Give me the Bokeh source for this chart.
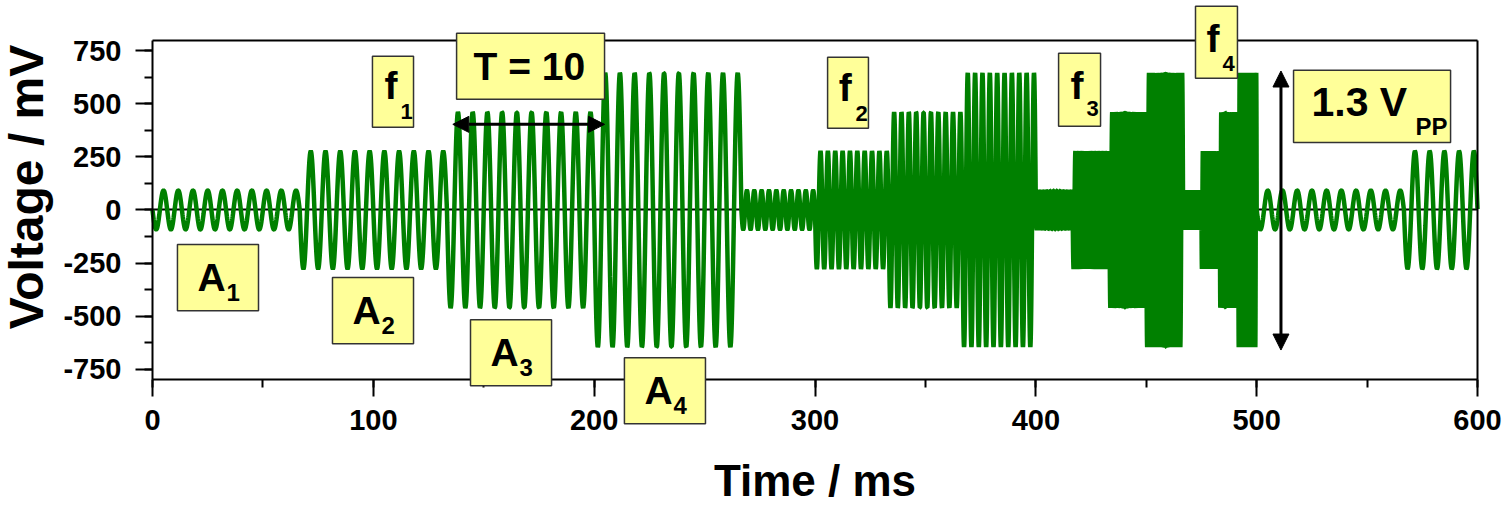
import math
import numpy as np
from bokeh.plotting import figure
from bokeh.models import (BoxAnnotation, Label, Arrow, NormalHead,
                          SingleIntervalTicker, FixedTicker, Range1d,
                          LinearAxis, PrintfTickFormatter)
from bokeh.embed import file_html
from bokeh.resources import INLINE

# ---------------- data: stepped sine bursts ----------------
seg_start_ms = [0.0, 66.67, 133.33, 200.0, 266.67, 300.0, 333.33, 366.67,
                400.0, 416.67, 433.33, 450.0, 466.67, 475.0, 483.33, 491.67,
                500.0, 566.67]
seg_end_ms = [66.67, 133.33, 200.0, 266.67, 300.0, 333.33, 366.67, 400.0,
              416.67, 433.33, 450.0, 466.67, 475.0, 483.33, 491.67, 500.0,
              566.67, 600.0]
seg_amp_mV = [92, 277, 461, 646, 92, 277, 461, 646,
              92, 277, 461, 646, 92, 277, 461, 646,
              92, 277]
seg_freq_Hz = [150, 150, 150, 150, 300, 300, 300, 300,
               600, 600, 600, 600, 1200, 1200, 1200, 1200,
               150, 150]

x_axis_bounds = (0, 600)
y_axis_bounds = (-800, 800)
x_ticks_interval = 100
y_ticks_interval = 250

# waveform sampled from the segment table
t_parts, v_parts = [], []
phase = 0.0
for s, e, a, f in zip(seg_start_ms, seg_end_ms, seg_amp_mV, seg_freq_Hz):
    cycles = (e - s) * f / 1000.0
    n = int(cycles * 48) + 2
    t = np.linspace(s, e, n)
    ph = phase + 2 * np.pi * f * (t - s) / 1000.0
    t_parts.append(t)
    v_parts.append(-a * np.sin(ph))
    phase = ph[-1]
t_all = np.concatenate(t_parts)
v_all = np.concatenate(v_parts)

FONT = "Liberation Sans"
PX_PER_MV = 339.5 / 1600.0
BASE_FIX = 0.38  # em shift so that the label y is the text baseline


def base_y(y, fs):
    return y + BASE_FIX * fs / PX_PER_MV


# the frame fills the canvas; axes sit at fixed locations so that the
# annotation boxes may overlap the axes like in the original figure
p = figure(width=1503, height=507, title=None,
           x_range=Range1d(-68.83, 611.77), y_range=Range1d(-1402.1, 987.3),
           output_backend="svg", toolbar_location=None,
           min_border=0, min_border_left=0, min_border_right=0,
           min_border_top=0, min_border_bottom=0)
p.background_fill_color = "white"
p.border_fill_color = "white"
p.outline_line_color = None
p.xgrid.visible = False
p.ygrid.visible = False

p.xaxis.fixed_location = y_axis_bounds[0]
p.xaxis.bounds = x_axis_bounds
p.yaxis.fixed_location = x_axis_bounds[0]
p.yaxis.bounds = y_axis_bounds
p.xaxis.ticker = SingleIntervalTicker(interval=x_ticks_interval, num_minor_ticks=2)
p.yaxis.ticker = SingleIntervalTicker(interval=y_ticks_interval, num_minor_ticks=2)
for ax in (p.xaxis[0], p.yaxis[0]):
    ax.formatter = PrintfTickFormatter(format="%d")
    ax.axis_line_width = 2
    ax.axis_line_color = "black"
    ax.major_tick_line_width = 2
    ax.minor_tick_line_width = 2
    ax.major_tick_line_color = "black"
    ax.minor_tick_line_color = "black"
    ax.major_tick_out = 17
    ax.major_tick_in = 0
    ax.minor_tick_out = 8
    ax.minor_tick_in = 0
    ax.major_label_text_font = FONT
    ax.major_label_text_font_style = "bold"
    ax.major_label_text_font_size = "29px"
    ax.major_label_text_color = "black"
p.xaxis.major_label_standoff = 13
p.yaxis.major_label_standoff = 14

# top and right frame lines (plain axes without ticks)
top_axis = LinearAxis(fixed_location=y_axis_bounds[1], bounds=x_axis_bounds,
                      ticker=FixedTicker(ticks=[]), axis_line_width=2,
                      major_tick_out=0, minor_tick_out=0)
p.add_layout(top_axis, "above")
right_axis = LinearAxis(fixed_location=x_axis_bounds[1], bounds=y_axis_bounds,
                        ticker=FixedTicker(ticks=[]), axis_line_width=2,
                        major_tick_out=0, minor_tick_out=0)
p.add_layout(right_axis, "right")
# zero line under the signal
zero_axis = LinearAxis(fixed_location=0, bounds=x_axis_bounds,
                       ticker=FixedTicker(ticks=[]), axis_line_width=2,
                       major_tick_out=0, minor_tick_out=0, level="underlay")
p.add_layout(zero_axis, "below")

p.line(t_all, v_all, line_color="#008000", line_width=4.5)

# axis titles
p.add_layout(Label(x=300, y=base_y(-1354.5, 44), text="Time / ms",
                   text_align="center", text_baseline="alphabetic",
                   text_font=FONT, text_font_style="bold",
                   text_font_size="44px", text_color="black"))
p.add_layout(Label(x=-57.1, y=108.4, text="Voltage / mV", angle=math.pi / 2,
                   text_align="center", text_baseline="alphabetic",
                   text_font=FONT, text_font_style="bold",
                   text_font_size="48px", text_color="black"))

# yellow annotation boxes: (left, right, bottom, top,
#   main text, main x, main baseline, main size, sub text, sub x, sub baseline, sub size)
boxes = [
    (11.3, 48.0, -474.3, -162.8, "A", 20.4, -389.4, 39, "1", 33.5, -431.9, 24),
    (81.5, 118.2, -630.1, -318.6, "A", 90.6, -545.1, 39, "2", 103.7, -587.6, 24),
    (144.0, 180.7, -828.3, -516.8, "A", 153.1, -743.4, 39, "3", 166.2, -785.9, 24),
    (213.7, 250.4, -1007.7, -696.2, "A", 222.8, -922.7, 39, "4", 235.9, -965.2, 24),
    (99.6, 118.2, 389.4, 724.5, "f", 105.1, 516.8, 39, "1", 112.3, 427.1, 22),
    (305.7, 324.2, 384.7, 719.8, "f", 310.8, 507.4, 39, "2", 318.3, 417.7, 22),
    (410.3, 429.3, 394.1, 738.6, "f", 415.7, 516.8, 39, "3", 422.9, 436.6, 22),
    (472.3, 491.3, 620.6, 960.5, "f", 477.3, 738.6, 39, "4", 484.5, 649.0, 22),
    (137.7, 204.7, 521.5, 833.0, "T = 10", 145.4, 606.5, 39, "", 0, 0, 22),
    (516.7, 587.8, 318.6, 658.4, "1.3 V", 524.8, 436.6, 41, "PP", 571.9, 351.6, 24),
]
for (l, r, b, t, mt, mx, my, ms, st, sx, sy, ss) in boxes:
    p.add_layout(BoxAnnotation(left=l, right=r, bottom=b, top=t,
                               fill_color="#FFFF99", fill_alpha=1.0,
                               line_color="#333333", line_width=1.5,
                               line_alpha=1.0))
    p.add_layout(Label(x=mx, y=base_y(my, ms), text=mt, text_font=FONT,
                       text_font_style="bold", text_font_size=f"{ms}px",
                       text_baseline="alphabetic", text_color="black"))
    if st:
        p.add_layout(Label(x=sx, y=base_y(sy, ss), text=st, text_font=FONT,
                           text_font_style="bold", text_font_size=f"{ss}px",
                           text_baseline="alphabetic", text_color="black"))

# arrows
p.add_layout(Arrow(x_start=136.0, y_start=403.5, x_end=204.7, y_end=403.5,
                   line_width=3, line_color="black",
                   start=NormalHead(size=16, fill_color="black", line_color="black"),
                   end=NormalHead(size=16, fill_color="black", line_color="black")))
p.add_layout(Arrow(x_start=511.0, y_start=-660.0, x_end=511.0, y_end=655.0,
                   line_width=3, line_color="black",
                   start=NormalHead(size=16, fill_color="black", line_color="black"),
                   end=NormalHead(size=16, fill_color="black", line_color="black")))

open("out.html", "w").write(file_html(p, INLINE))
